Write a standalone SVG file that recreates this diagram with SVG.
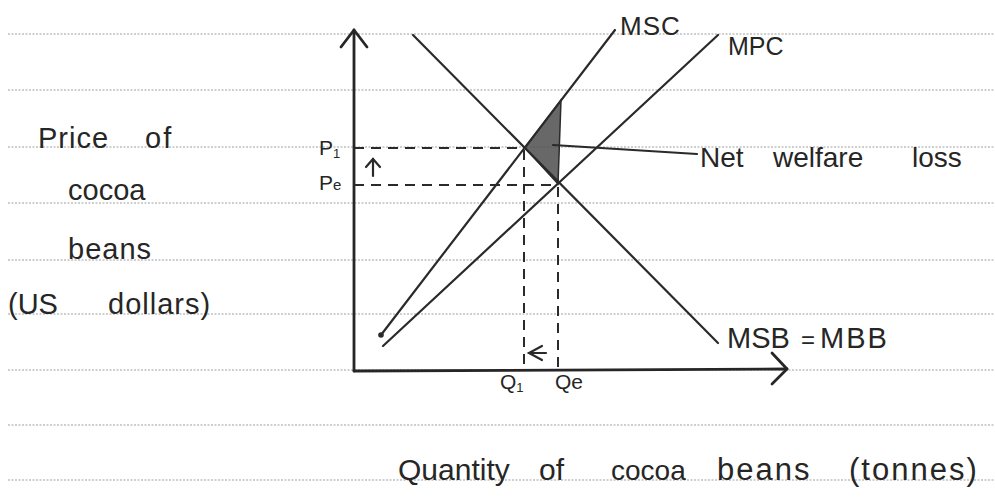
<svg xmlns="http://www.w3.org/2000/svg" width="995" height="501" viewBox="0 0 995 501">
<style>
.rule{stroke:#a0a0a0;stroke-width:1.2;stroke-dasharray:2 1.5;fill:none}
.ax{stroke:#262626;stroke-width:2.8;fill:none;stroke-linecap:round;stroke-linejoin:round}
.crv{stroke:#2a2a2a;stroke-width:2.2;fill:none;stroke-linecap:round}
.dash{stroke:#2a2a2a;stroke-width:2;fill:none;stroke-dasharray:10 7}
.t{font-family:"Liberation Sans",Arial,sans-serif;fill:#262626}
</style>
<rect width="995" height="501" fill="#ffffff"/>
<g id="ruled-paper">
<line class="rule" x1="8" y1="34" x2="995" y2="34"/>
<line class="rule" x1="8" y1="90" x2="995" y2="90"/>
<line class="rule" x1="8" y1="147" x2="995" y2="147"/>
<line class="rule" x1="8" y1="203" x2="995" y2="203"/>
<line class="rule" x1="8" y1="260" x2="995" y2="260"/>
<line class="rule" x1="8" y1="314" x2="995" y2="314"/>
<line class="rule" x1="8" y1="370" x2="995" y2="370"/>
<line class="rule" x1="8" y1="425" x2="995" y2="425"/>
<line class="rule" x1="8" y1="480" x2="995" y2="480"/>
</g>
<g id="welfare-loss-area">
<polygon points="525,148 561,100 558,184" fill="#4d4d4d" fill-opacity="0.85" stroke="#2a2a2a" stroke-width="1.5"/>
</g>
<g id="axes">
<line class="ax" x1="354" y1="30" x2="354" y2="371"/>
<polyline class="ax" points="341,47 354,30 367,47"/>
<line class="ax" x1="354" y1="371" x2="787" y2="369"/>
<polyline class="ax" points="772,353 787,369 772,384"/>
</g>
<g id="connectors">
<line id="msb" class="crv" x1="413" y1="35" x2="718" y2="343"/>
<line id="msc" class="crv" x1="615" y1="30" x2="381" y2="335"/>
<circle cx="381" cy="335" r="2.8" fill="#2a2a2a"/>
<line id="mpc" class="crv" x1="718" y1="35" x2="383" y2="346"/>
<line class="dash" x1="354" y1="148" x2="525" y2="148"/>
<line class="dash" x1="354" y1="185" x2="558" y2="185"/>
<line class="dash" x1="524" y1="150" x2="524" y2="371"/>
<line class="dash" x1="558" y1="187" x2="558" y2="371"/>
<line class="crv" x1="553" y1="145" x2="697" y2="154"/>
<line class="crv" x1="373" y1="176" x2="373" y2="159"/>
<polyline class="crv" points="366,167 373,159 380,167"/>
<line class="crv" x1="529" y1="353" x2="546" y2="353"/>
<polyline class="crv" points="542,346 529,353 542,360"/>
</g>
<g id="curve-labels">
<text class="t" x="620" y="35" font-size="26" letter-spacing="1">MSC</text>
<text class="t" x="728" y="55" font-size="25">MPC</text>
<text class="t" x="727" y="348" font-size="29">MSB</text>
<text class="t" x="801" y="348" font-size="24">=</text>
<text class="t" x="820" y="348" font-size="29" letter-spacing="2">MBB</text>
<text class="t" x="700" y="167" font-size="28">Net</text>
<text class="t" x="773" y="167" font-size="28">welfare</text>
<text class="t" x="912" y="167" font-size="28">loss</text>
</g>
<g id="axis-marks">
<text class="t" x="319" y="155" font-size="21">P<tspan font-size="13" dy="3">1</tspan></text>
<text class="t" x="319" y="190" font-size="21">P<tspan font-size="15">e</tspan></text>
<text class="t" x="500" y="389" font-size="21">Q<tspan font-size="13" dy="3">1</tspan></text>
<text class="t" x="555" y="389" font-size="21">Qe</text>
</g>
<g id="y-axis-title">
<text class="t" x="38" y="148" font-size="29" letter-spacing="1">Price</text>
<text class="t" x="145" y="148" font-size="29" letter-spacing="2">of</text>
<text class="t" x="68" y="200" font-size="29">cocoa</text>
<text class="t" x="68" y="259" font-size="29" letter-spacing="1">beans</text>
<text class="t" x="8" y="314" font-size="29">(US</text>
<text class="t" x="108" y="314" font-size="29" letter-spacing="1">dollars)</text>
</g>
<g id="x-axis-title">
<text class="t" x="398" y="480" font-size="30">Quantity</text>
<text class="t" x="539" y="480" font-size="30">of</text>
<text class="t" x="611" y="480" font-size="28">cocoa</text>
<text class="t" x="717" y="480" font-size="31" letter-spacing="2">beans</text>
<text class="t" x="849" y="480" font-size="31" letter-spacing="2">(tonnes)</text>
</g>
</svg>
